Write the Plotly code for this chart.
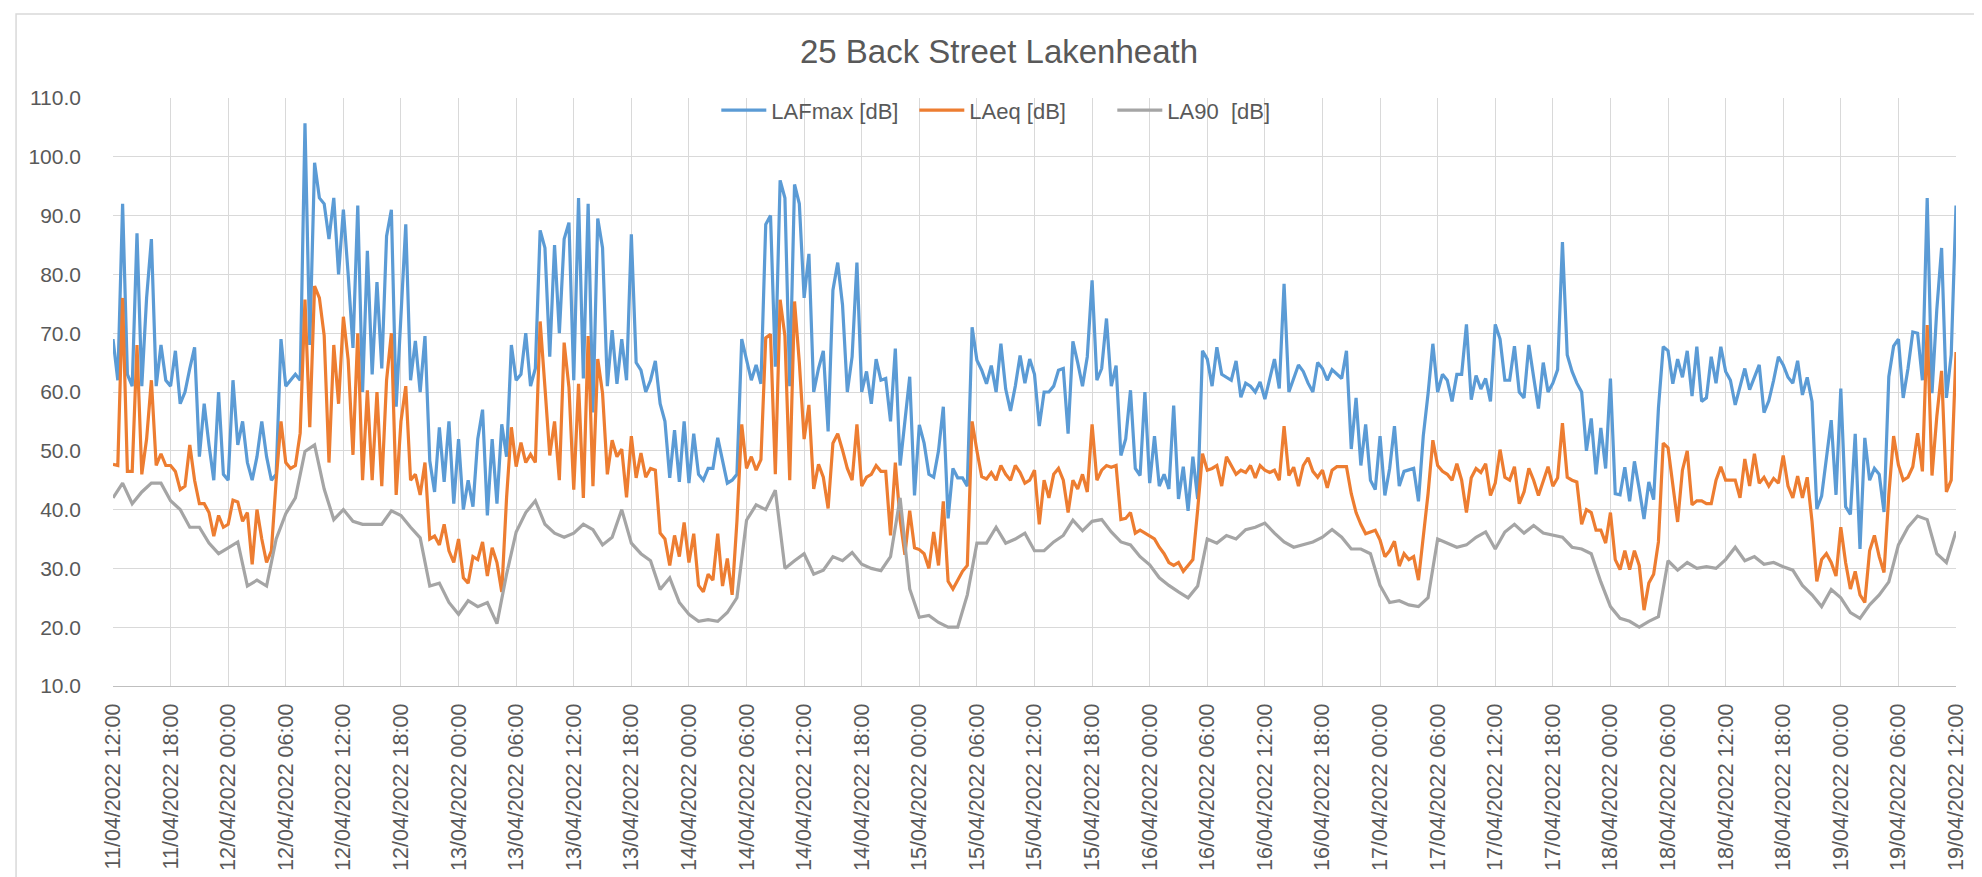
import pandas as pd
import plotly.graph_objects as go

title_text = "25 Back Street Lakenheath"
series_names = ["LAFmax [dB]", "LAeq [dB]", "LA90  [dB]"]
start_time = "2022-04-11 12:00"

# LAFmax, 30-minute values, one list per day (starting 12:00)
lafmax_d1 = [69, 62, 92, 63, 61, 87, 61, 76, 86, 61, 68, 62, 61, 67, 58, 60, 64, 67.6, 49, 58,
             51, 45, 60, 46, 45, 62, 51, 55, 48, 45, 49, 55, 49, 45, 46, 69, 61, 62, 63, 62,
             105.7, 68, 99, 93, 92, 86, 93, 80]
lafmax_d2 = [91, 80, 67.5, 91.7, 60, 84, 63, 78.7, 64, 86.5, 91, 57.5, 72, 88.5, 62, 68.7, 60, 69.5, 48.3, 43,
             54, 44.7, 55, 41, 52, 40, 45, 40.5, 52, 57, 39, 52, 41, 54.5, 49, 68, 62, 63, 70, 61,
             64, 87.5, 84.5, 66, 85, 70, 86, 88.8]
lafmax_d3 = [62, 93, 62.3, 92, 56.5, 89.5, 84.5, 61, 70.5, 61.4, 69, 62, 86.8, 65, 63.7, 60, 62, 65.3, 58, 55,
             45.4, 53.5, 44.7, 55, 44.5, 52.9, 46, 45, 47, 47, 52.2, 48.5, 44.5, 45, 46, 69, 65.6, 62, 64.6, 61.4,
             88.5, 90, 64.3, 96, 93, 61, 95.3, 92]
lafmax_d4 = [76, 83.5, 60, 64, 67, 53.3, 77.3, 82, 74.8, 60, 66, 82, 60, 63.5, 58, 65.6, 62, 62.3, 55, 67.4,
             47.5, 55, 62.6, 42.4, 54.4, 51.3, 46, 45.5, 50, 57.5, 38.5, 47, 45.4, 45.4, 44, 71, 65.4, 63.7, 61.4, 64.5,
             60, 68.2, 60.5, 56.8, 61, 66.2, 61.5, 65.6]
lafmax_d5 = [63, 54.2, 60, 60, 61, 63.7, 64, 52.9, 68.6, 65, 61, 66, 79, 62, 64, 72.5, 61, 64.5, 49.2, 52,
             60.3, 47, 45.8, 60, 44.5, 52.5, 44, 46, 43.5, 57.7, 41.8, 47.3, 39.8, 49, 41.8, 67, 65.6, 61, 67.6, 63,
             62.5, 62, 65.3, 59.1, 61.5, 61, 60, 61.7]
lafmax_d6 = [58.8, 62, 65.6, 60.6, 78.4, 60, 62.3, 64.6, 63.5, 61.5, 60, 65, 64, 62, 63.8, 63, 62.3, 67, 50.3, 59,
             47.5, 54.5, 45, 43.4, 52.5, 42.4, 47, 54.2, 44, 46.5, 46.7, 47, 41.4, 52.5, 59.7, 68.2, 60, 63, 62, 58.4,
             63, 63, 71.5, 58.7, 62.8, 60.5, 62.3, 58.4]
lafmax_d7 = [71.5, 69, 62, 62, 67.8, 60, 59, 68, 62.5, 57.2, 65, 60, 61.5, 63.8, 85.5, 66.3, 63.5, 61.5, 60, 50,
             55.5, 46, 53.9, 47, 62.3, 42.7, 42.5, 47.2, 41.4, 48.2, 43.5, 38.4, 44.7, 41.7, 57.2, 67.7, 67, 61.4, 65.6, 62.5,
             67, 59.3, 67.7, 58.4, 59, 66, 61.5, 67.7]
lafmax_d8 = [63.5, 62, 57.8, 61, 64, 60.4, 62.5, 64.6, 56.5, 58.5, 62, 66, 64.6, 62.5, 61.5, 65.3, 59.5, 62.5, 58.4, 40.1,
             42.3, 49, 55.2, 42.5, 60.6, 40.5, 39.2, 52.9, 33.3, 52.2, 45, 47, 46, 39.6, 62.6, 67.8, 69, 59, 64, 70.2,
             70, 62, 93, 59.8, 74, 84.5, 59, 66.3, 91.7]

# LAeq, 30-minute values
laeq_d1 = [47.7, 47.5, 76, 46.5, 46.5, 68, 46, 52, 62, 47.5, 49.5, 47.5, 47.5, 46.5, 43.4, 44, 51, 45, 41, 41,
           39.5, 35.5, 39, 37, 37.5, 41.6, 41.3, 38, 39.5, 30.7, 40, 35, 31, 33, 45, 55, 48, 47, 47.5, 53,
           75.7, 54, 78, 76, 69.6, 48, 68, 58]
laeq_d2 = [72.8, 65.5, 49.3, 70, 45, 60.3, 45, 60, 44, 62, 70, 42.5, 55, 61, 45, 46, 42.5, 48, 35, 35.5,
           34, 37.5, 33, 31, 35, 28.4, 27.5, 32, 31.5, 34.5, 28.7, 33.5, 31, 26, 42, 54, 47.3, 51.4, 48, 49.4,
           48, 72, 60.8, 49.2, 55, 45, 68.4, 60.8]
laeq_d3 = [43.4, 61.4, 42, 69.5, 44, 65.6, 59.8, 46, 51.8, 49, 50.3, 42.1, 52.5, 45.4, 49.6, 45.5, 47, 46.7, 36, 35,
           30.5, 35.6, 32, 37.8, 31, 35.9, 27.1, 26, 29, 28, 35.9, 27, 31.7, 25.5, 38, 54.5, 47, 49, 46.7, 48.5,
           69.2, 69.8, 46, 75.7, 69.5, 45, 75.4, 65]
laeq_d4 = [52, 57.8, 43.5, 47.7, 45.5, 40.2, 51.3, 52.9, 50.1, 47, 45, 54.5, 44, 45.5, 46, 47.5, 46.5, 46.5, 35.6, 48,
           38.3, 32.3, 39.8, 33.5, 33.2, 32.5, 30, 36.2, 30.5, 41.4, 27.8, 26.5, 28, 29.5, 30.5, 55, 50, 45.6, 45.2, 46.3,
           45, 47.5, 46, 45, 47.5, 46.3, 44.5, 45]
laeq_d5 = [46.7, 37.5, 45, 42, 46, 47, 45, 39.5, 45, 43.5, 46, 43, 54.5, 45, 46.7, 47.5, 47.2, 47.5, 38.3, 38.5,
           39.5, 36, 36.5, 36, 35.5, 35, 33.6, 32.5, 31, 30.5, 31, 29.5, 30.5, 31.5, 40, 49.5, 46.7, 47, 47.5, 44,
           49, 47.5, 46, 46.7, 46.3, 47.5, 45.4, 47.5]
laeq_d6 = [46.7, 46.3, 46.7, 45, 54.2, 45.8, 47.2, 44, 47.5, 48.8, 46.5, 45.5, 46.7, 43.7, 46.7, 47.3, 47.3, 47.3, 42.7, 39.5,
           37.5, 35.9, 36.2, 36.5, 34.8, 32, 33, 34.6, 30.4, 32.5, 31.5, 32, 28, 35.5, 42.7, 51.8, 47.5, 46.5, 46, 45,
           47.8, 45, 39.5, 45.4, 47, 46.3, 47.8, 42.4]
laeq_d7 = [44.5, 50.2, 45.5, 45, 47.3, 41, 43, 47, 45, 42.4, 45, 47.3, 44, 45.4, 54.7, 45.5, 45, 44.7, 37.5, 40,
           39.5, 36.5, 36.5, 34.3, 39.5, 31.5, 29.8, 33, 29.8, 33, 30.5, 22.9, 27.5, 29, 34.5, 51.3, 50.5, 44.5, 37.9, 46.7,
           50, 40.8, 41.5, 41.5, 41, 41, 45, 47.3]
laeq_d8 = [45, 45, 45, 42, 48.6, 44, 49.5, 44.5, 45.5, 44, 45.3, 44.5, 49.2, 44, 42, 45.7, 42, 45.5, 38, 27.8,
           31.5, 32.5, 31, 28.7, 37, 31, 26.5, 29.5, 25.5, 24.2, 33, 35.6, 32, 29.3, 42.5, 52.5, 47.6, 45, 45.5, 47.3,
           53, 46.5, 71.4, 45.8, 55.8, 63.6, 43, 45, 66.8]

# LA90, hourly values
la90_d1 = [42, 44.5, 41, 43, 44.5, 44.5, 41.5, 40, 37, 37, 34.3, 32.5, 33.5, 34.5, 27, 28, 27, 35, 39.3, 42,
           49.9, 51, 43.5, 38.3]
la90_d2 = [40, 38, 37.5, 37.5, 37.5, 39.8, 39, 37, 35.2, 27, 27.5, 24.2, 22.2, 24.5, 23.5, 24.2, 20.6, 29, 36.2, 39.5,
           41.5, 37.5, 36, 35.3]
la90_d3 = [36, 37.5, 36.6, 34, 35.3, 40, 34.3, 32.5, 31.3, 26.4, 28.4, 24.2, 22.2, 21, 21.3, 21, 22.5, 25, 38.2, 40.8,
           40, 43.3, 30, 31.3]
la90_d4 = [32.5, 29, 29.7, 32, 31.3, 32.7, 30.7, 30, 29.6, 32, 42, 26.5, 21.7, 22, 20.8, 20, 20, 25.5, 34.3, 34.3,
           37, 34.3, 35, 36]
la90_d5 = [33, 33, 34.5, 35.6, 38.2, 36.4, 38, 38.3, 36.2, 34.5, 34, 32, 30.6, 28.4, 27.1, 26, 25, 27, 35, 34.3,
           35.6, 35, 36.6, 37]
la90_d6 = [37.7, 36, 34.5, 33.6, 34, 34.5, 35.3, 36.6, 35.3, 33.3, 33.3, 32.5, 27.1, 24.2, 24.5, 23.8, 23.5, 25, 35, 34.3,
           33.6, 34, 35.3, 36.2]
la90_d7 = [33.3, 36.2, 37.5, 36, 37.3, 36, 35.7, 35.3, 33.6, 33.3, 32.5, 27.7, 23.5, 21.5, 21, 20, 21, 21.8, 31.3, 29.7,
           31, 30, 30.3, 30]
la90_d8 = [31.5, 33.6, 31.3, 32, 30.7, 31, 30.3, 29.7, 27.1, 25.5, 23.5, 26.4, 25, 22.5, 21.5, 23.8, 25.5, 27.7, 34, 37,
           38.9, 38.3, 32.5, 31, 36.3]

lafmax = lafmax_d1 + lafmax_d2 + lafmax_d3 + lafmax_d4 + lafmax_d5 + lafmax_d6 + lafmax_d7 + lafmax_d8
laeq = laeq_d1 + laeq_d2 + laeq_d3 + laeq_d4 + laeq_d5 + laeq_d6 + laeq_d7 + laeq_d8
la90 = la90_d1 + la90_d2 + la90_d3 + la90_d4 + la90_d5 + la90_d6 + la90_d7 + la90_d8

t_half = pd.date_range(start_time, periods=len(lafmax), freq="30min")
t_half_eq = pd.date_range(start_time, periods=len(laeq), freq="30min")
t_hour = pd.date_range(start_time, periods=len(la90), freq="60min")

colors = ["#5B9BD5", "#ED7D31", "#A5A5A5"]
FONT = "Liberation Sans, Arial, sans-serif"
TXT = "#595959"
GRID = "#D9D9D9"

fig = go.Figure()
fig.add_trace(go.Scatter(x=t_half, y=lafmax, mode="lines", name=series_names[0],
                         line=dict(color=colors[0], width=3.2)))
fig.add_trace(go.Scatter(x=t_half_eq, y=laeq, mode="lines", name=series_names[1],
                         line=dict(color=colors[1], width=3.2)))
fig.add_trace(go.Scatter(x=t_hour, y=la90, mode="lines", name=series_names[2],
                         line=dict(color=colors[2], width=3.2)))

fig.update_layout(
    width=1982, height=877,
    margin=dict(l=105, r=34, t=90, b=199),
    paper_bgcolor="white", plot_bgcolor="white",
    font=dict(family=FONT, color=TXT, size=21),
    title=dict(text=title_text, x=0.5, xanchor="center", y=0.951, yanchor="middle",
               yref="container", font=dict(family=FONT, size=33, color=TXT)),
    legend=dict(orientation="h", x=0.4885, xanchor="center", y=0.979, yanchor="middle",
                font=dict(family=FONT, size=22, color=TXT), bgcolor="rgba(0,0,0,0)",
                itemwidth=45, traceorder="normal",
                entrywidth=138, entrywidthmode="pixels"),
    showlegend=True,
)
fig.update_xaxes(
    type="date", range=[t_hour[0], t_hour[-1]],
    tick0=t_hour[0], dtick=6 * 3600 * 1000, tickformat="%d/%m/%Y %H:%M",
    tickangle=-90, showgrid=True, gridcolor=GRID, gridwidth=1,
    showline=True, linecolor="#BFBFBF", linewidth=1, mirror=False,
    ticks="", ticklabelstandoff=8, tickfont=dict(family=FONT, size=21.5, color=TXT),
    zeroline=False,
)
fig.update_yaxes(
    range=[10, 110], tick0=10, dtick=10, tickformat=".1f",
    showgrid=True, gridcolor=GRID, gridwidth=1, zeroline=False, showline=False,
    ticks="", ticklabelstandoff=31, tickfont=dict(family=FONT, size=21, color=TXT),
)
# outer chart border
fig.add_shape(type="rect", xref="paper", yref="paper",
              x0=-0.0526, x1=1.013, y0=-0.33, y1=1.143,
              line=dict(color=GRID, width=1.5), fillcolor="rgba(0,0,0,0)", layer="below")

fig.write_html("out.html")
